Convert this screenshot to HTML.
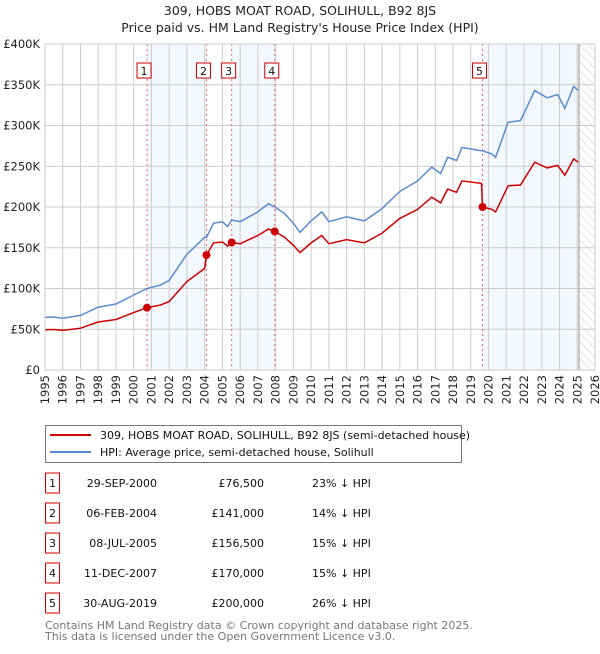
<!DOCTYPE html>
<html><head><meta charset="utf-8"><style>
body{margin:0;background:#fff;font-family:"DejaVu Sans","Liberation Sans",sans-serif;}
svg text{font-family:"DejaVu Sans","Liberation Sans",sans-serif;}
</style></head><body>
<svg id="c" width="600" height="650" xmlns="http://www.w3.org/2000/svg">
<defs><pattern id="hatch" width="6" height="6" patternUnits="userSpaceOnUse" patternTransform="rotate(-45)"><line x1="0" y1="0" x2="0" y2="6" stroke="#ccc" stroke-width="1"/></pattern></defs>
<text x="300" y="15" text-anchor="middle" font-size="12.5" fill="#222">309, HOBS MOAT ROAD, SOLIHULL, B92 8JS</text>
<text x="300" y="32" text-anchor="middle" font-size="12.5" fill="#222">Price paid vs. HM Land Registry's House Price Index (HPI)</text>
<g id="plot"></g>
<g>
<rect x="45.5" y="425.5" width="416" height="37" fill="#fff" stroke="#777"/>
<line x1="50" y1="435" x2="91" y2="435" stroke="#cc0000" stroke-width="2"/>
<text x="100" y="439" font-size="11" fill="#111">309, HOBS MOAT ROAD, SOLIHULL, B92 8JS (semi-detached house)</text>
<line x1="50" y1="452" x2="91" y2="452" stroke="#5b8bd0" stroke-width="2"/>
<text x="100" y="456" font-size="11" fill="#111">HPI: Average price, semi-detached house, Solihull</text>
</g>
<g id="table"></g>
<text x="45" y="629" font-size="11" fill="#777">Contains HM Land Registry data © Crown copyright and database right 2025.</text>
<text x="45" y="640" font-size="11" fill="#777">This data is licensed under the Open Government Licence v3.0.</text>
</svg>
<script>
const hpiYears=[1995.0,1995.5,1996.0,1997.0,1998.0,1999.0,2000.0,2000.75,2001.5,2002.0,2003.0,2004.0,2004.1,2004.5,2005.0,2005.3,2005.52,2006.0,2006.5,2007.0,2007.6,2007.95,2008.5,2009.0,2009.37,2010.0,2010.6,2011.0,2012.0,2013.0,2014.0,2015.0,2016.0,2016.8,2017.3,2017.7,2018.2,2018.5,2019.6,2019.66,2020.2,2020.4,2021.1,2021.8,2022.6,2023.3,2023.9,2024.3,2024.8,2025.05];
const hpiValues=[64.7,65,63.5,67,77,81,92,100,104,110,142,163,163,180,182,176,184,182,188,194,204,200,192,180,169,183,194,182,188,183,198,219,232,249,241,261,257,273,269,269,265,261,304,306,343,334,338,321,348,343];
const priceValues=[49.5,49.7,48.6,51.3,58.9,62,70.4,76.5,79.6,84,108.6,124.7,141,156,157,152,156.5,155,160,165,173,170,163,153,144,156,165,155,160,156,168,186,197,212,205,222,218,232,229,200,197,194,226,227,255,248,251,239,259,255];
const saleDates=[2000.75,2004.1,2005.52,2007.95,2019.66];
const salePrices=[76.5,141,156.5,170,200];
const saleLabels=["1","2","3","4","5"];
const saleDateText=["29-SEP-2000","06-FEB-2004","08-JUL-2005","11-DEC-2007","30-AUG-2019"];
const salePriceText=["£76,500","£141,000","£156,500","£170,000","£200,000"];
const saleHpiText=["23% ↓ HPI","14% ↓ HPI","15% ↓ HPI","15% ↓ HPI","26% ↓ HPI"];
const yTicks=[0,50,100,150,200,250,300,350,400];
const yTickLabels=["£0","£50K","£100K","£150K","£200K","£250K","£300K","£350K","£400K"];
const xTicks=[1995,1996,1997,1998,1999,2000,2001,2002,2003,2004,2005,2006,2007,2008,2009,2010,2011,2012,2013,2014,2015,2016,2017,2018,2019,2020,2021,2022,2023,2024,2025,2026];
const dataEnd=2025.1;

const X0=45,X1=595,Y0=370,Y1=44;
const x=v=>X0+(v-1995)/(2026-1995)*(X1-X0);
const y=v=>Y0-v/400*(Y0-Y1);
const NS="http://www.w3.org/2000/svg";
const plot=document.getElementById('plot');
function mk(tag,attrs,parent){const e=document.createElementNS(NS,tag);for(const k in attrs)e.setAttribute(k,attrs[k]);(parent||plot).appendChild(e);return e;}
const spans=[[saleDates[0],saleDates[1]],[saleDates[2],saleDates[3]],[saleDates[4],dataEnd]];
spans.forEach(s=>{const r=mk('rect',{x:x(s[0]),y:Y1,width:x(s[1])-x(s[0]),height:Y0-Y1,fill:'#f3f7fe'});

});
const h=mk('rect',{x:x(dataEnd),y:Y1,width:X1-x(dataEnd),height:Y0-Y1,fill:'url(#hatch)'});


xTicks.forEach(t=>{mk('line',{x1:x(t),x2:x(t),y1:Y1,y2:Y0,stroke:'#ccc','stroke-width':1});
const tx=mk('text',{x:0,y:0,transform:`translate(${x(t)+4},${Y0+5}) rotate(-90)`,'text-anchor':'end','font-size':11.5,fill:'#222'});
tx.textContent=t;

});
yTicks.forEach((t,i)=>{mk('line',{x1:X0,x2:X1,y1:y(t),y2:y(t),stroke:'#ccc','stroke-width':1});
const tx=mk('text',{x:X0-5,y:y(t)+4,'text-anchor':'end','font-size':11.5,fill:'#222'});
tx.textContent=yTickLabels[i];

});
mk('line',{x1:x(dataEnd),x2:x(dataEnd),y1:Y1,y2:Y0,stroke:'#999','stroke-width':1});
saleDates.forEach((d,i)=>{const l=mk('line',{x1:x(d),x2:x(d),y1:Y1,y2:Y0,stroke:'#e66','stroke-width':1,'stroke-dasharray':'2,3'});


const g=mk('g',{});


mk('rect',{x:x(d)-10,y:63,width:14,height:15,fill:'#fff',stroke:'#c00'},g);
const t=mk('text',{x:x(d)-3,y:75,'text-anchor':'middle','font-size':11,fill:'#111'},g);t.textContent=saleLabels[i];});
const pts=(vals)=>hpiYears.map((yr,i)=>x(yr).toFixed(1)+','+y(vals[i]).toFixed(1)).join(' ');
const hl=mk('polyline',{points:pts(hpiValues),fill:'none',stroke:'#5b8bd0','stroke-width':1.5});


const pl=mk('polyline',{points:pts(priceValues),fill:'none',stroke:'#cc0000','stroke-width':1.5});


saleDates.forEach((d,i)=>{const c=mk('circle',{cx:x(d),cy:y(salePrices[i]),r:4,fill:'#cc0000'});

});
mk('rect',{x:X0,y:Y1,width:X1-X0,height:Y0-Y1,fill:'none',stroke:'#ccc'});
const tb=document.getElementById('table');
saleLabels.forEach((lab,i)=>{const cy=483+i*30;
const g=mk('g',{},tb);


mk('rect',{x:45.5,y:cy-10,width:14,height:20,fill:'#fff',stroke:'#c00'},g);
let t=mk('text',{x:52.5,y:cy+4,'text-anchor':'middle','font-size':11,fill:'#111'},g);t.textContent=lab;
t=mk('text',{x:157,y:cy+4,'text-anchor':'end','font-size':11,fill:'#111'},g);t.textContent=saleDateText[i];
t=mk('text',{x:264,y:cy+4,'text-anchor':'end','font-size':11,fill:'#111'},g);t.textContent=salePriceText[i];
t=mk('text',{x:312,y:cy+4,'font-size':11,fill:'#111'},g);t.textContent=saleHpiText[i];});
</script>
</body></html>
